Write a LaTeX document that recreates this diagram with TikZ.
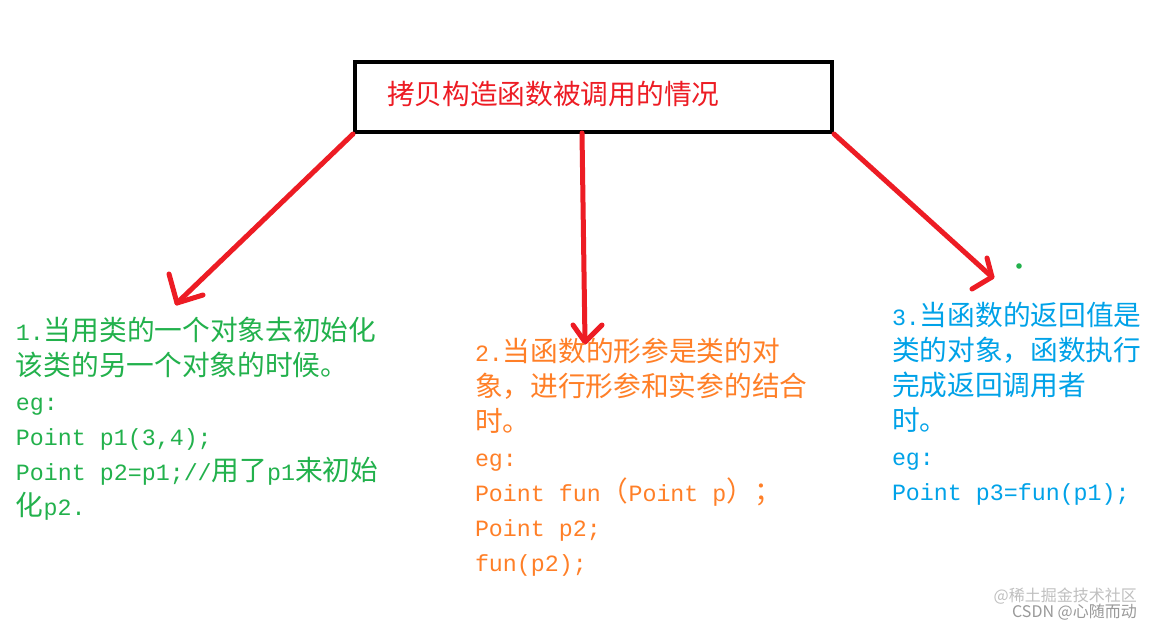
\documentclass[tikz,border=0pt]{standalone}
\usepackage{fontspec}
\newfontfamily\cjkf{Noto Sans CJK SC}
\newfontfamily\monof{Liberation Mono}
\newcommand\zh[1]{{\cjkf\fontsize{27.7}{30}\selectfont #1}}
\newcommand\mn[1]{{\monof\fontsize{23.3}{30}\selectfont #1}}
\definecolor{penred}{RGB}{237,28,36}
\definecolor{pgreen}{RGB}{34,177,76}
\definecolor{porange}{RGB}{255,127,39}
\definecolor{pblue}{RGB}{0,162,232}
\tikzset{
  redpen/.style={draw=penred, line width=5pt, line cap=round, line join=round},
  txt/.style={anchor=base west, inner sep=0pt, outer sep=0pt},
  gtxt/.style={txt, text=pgreen},
  otxt/.style={txt, text=porange},
  btxt/.style={txt, text=pblue},
  titlebox/.style={draw=black, line width=4pt, minimum width=477pt, minimum height=70pt, inner sep=0pt},
  wmark/.style={anchor=base east, inner sep=0pt, font=\cjkf\fontsize{16}{17}\selectfont}
}
\begin{document}
\begin{tikzpicture}[x=1pt,y=-1pt]
\useasboundingbox (0,0) rectangle (1152,626);
\fill[white] (0,0) rectangle (1152,626);

% title box
\node[titlebox] (box) at (593.5,97) {};
\node[txt, text=penred] (title) at (387,105) {\zh{拷贝构造函数被调用的情况}};

% arrow 1
\coordinate (t1) at (177,303);
\coordinate (w1a) at (169,274);
\coordinate (w1b) at (203,295);
\draw[redpen] (box.south west) -- (t1);
\draw[redpen] (w1a) -- (t1) -- (w1b);

% arrow 2
\coordinate (s2) at (582,133);
\coordinate (t2) at (585,342);
\coordinate (w2a) at (573,325);
\coordinate (w2b) at (602,325);
\draw[redpen] (s2) -- (t2);
\draw[redpen] (w2a) -- (t2) -- (w2b);

% arrow 3
\coordinate (t3) at (992,277);
\coordinate (w3a) at (987,258);
\coordinate (w3b) at (972,289);
\draw[redpen] (box.south east) -- (t3);
\draw[redpen] (w3a) -- (t3) -- (w3b);

% stray green dot
\fill[pgreen] (1019,266) circle (2.8);

% case 1 (green)
\node[gtxt] (g1) at (16,340) {\mn{1.}\zh{当用类的一个对象去初始化}};
\node[gtxt] (g2) at (16,375) {\zh{该类的另一个对象的时候。}};
\node[gtxt] (g3) at (16,410) {\mn{eg:}};
\node[gtxt] (g4) at (16,445) {\mn{Point p1(3,4);}};
\node[gtxt] (g5) at (16,480) {\mn{Point p2=p1;//}\zh{用了}\mn{p1}\zh{来初始}};
\node[gtxt] (g6) at (16,515) {\zh{化}\mn{p2.}};

% case 2 (orange)
\node[otxt] (o1) at (475,361) {\mn{2.}\zh{当函数的形参是类的对}};
\node[otxt] (o2) at (475,396) {\zh{象，进行形参和实参的结合}};
\node[otxt] (o3) at (475,431) {\zh{时。}};
\node[otxt] (o4) at (475,466) {\mn{eg:}};
\node[otxt] (o5) at (475,501) {\mn{Point fun}\zh{（}\mn{Point p}\zh{）；}};
\node[otxt] (o6) at (475,536) {\mn{Point p2;}};
\node[otxt] (o7) at (475,571) {\mn{fun(p2);}};

% case 3 (blue)
\node[btxt] (b1) at (892,325) {\mn{3.}\zh{当函数的返回值是}};
\node[btxt] (b2) at (892,360) {\zh{类的对象，函数执行}};
\node[btxt] (b3) at (892,395) {\zh{完成返回调用者}};
\node[btxt] (b4) at (892,430) {\zh{时。}};
\node[btxt] (b5) at (892,465) {\mn{eg:}};
\node[btxt] (b6) at (892,500) {\mn{Point p3=fun(p1);}};

% watermarks
\node[wmark, text=black!25] (wm1) at (1137,601) {@稀土掘金技术社区};
\node[wmark, text=black!40] (wm2) at (1137,617) {CSDN @心随而动};
\end{tikzpicture}
\end{document}
